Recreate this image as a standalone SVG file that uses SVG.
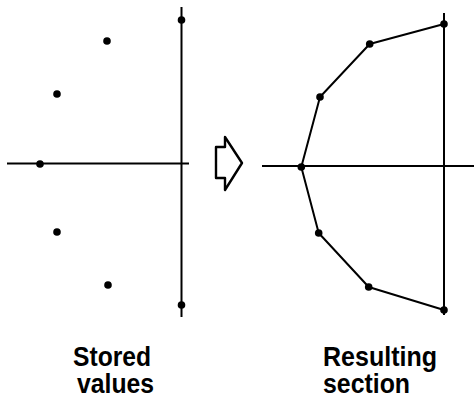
<svg xmlns="http://www.w3.org/2000/svg" width="474" height="399" viewBox="0 0 474 399">
<style>
.ln{stroke:#000;stroke-width:2;fill:none;stroke-linejoin:round}
.dot{fill:#000}
.lbl{font-family:"Liberation Sans",Arial,sans-serif;font-weight:bold;font-size:28px;fill:#000}
</style>
<rect width="474" height="399" fill="#fff"/>
<g id="stored-values">
<line class="ln" x1="181.5" y1="7" x2="181.5" y2="317"/>
<line class="ln" x1="7" y1="163.5" x2="189" y2="163.5"/>
<circle class="dot" cx="181.5" cy="20" r="3.8"/>
<circle class="dot" cx="107" cy="41" r="3.8"/>
<circle class="dot" cx="57" cy="94" r="3.8"/>
<circle class="dot" cx="40" cy="164" r="3.8"/>
<circle class="dot" cx="57" cy="232" r="3.8"/>
<circle class="dot" cx="108" cy="285" r="3.8"/>
<circle class="dot" cx="181.5" cy="305" r="3.8"/>
</g>
<g id="arrow">
<polygon class="ln" style="stroke-width:2.4" points="216,147 225,147 225,137 242,163 225,190 225,178 216,178"/>
</g>
<g id="resulting-section">
<line class="ln" x1="444" y1="13" x2="444" y2="315"/>
<line class="ln" x1="262" y1="166" x2="474" y2="166"/>
<polyline class="ln" points="444,24 369.7,44 320,97 301.3,167 318.7,233 368.7,287 444,310"/>
<circle class="dot" cx="444" cy="24" r="3.8"/>
<circle class="dot" cx="369.7" cy="44" r="3.8"/>
<circle class="dot" cx="320" cy="97" r="3.8"/>
<circle class="dot" cx="301.3" cy="167" r="3.8"/>
<circle class="dot" cx="318.7" cy="233" r="3.8"/>
<circle class="dot" cx="368.7" cy="287" r="3.8"/>
<circle class="dot" cx="444" cy="310" r="3.8"/>
</g>
<g id="labels">
<text class="lbl" x="73" y="366" textLength="78" lengthAdjust="spacingAndGlyphs">Stored</text>
<text class="lbl" x="77" y="393" textLength="77" lengthAdjust="spacingAndGlyphs">values</text>
<text class="lbl" x="323" y="366" textLength="114" lengthAdjust="spacingAndGlyphs">Resulting</text>
<text class="lbl" x="323" y="393" textLength="87" lengthAdjust="spacingAndGlyphs">section</text>
</g>
</svg>
